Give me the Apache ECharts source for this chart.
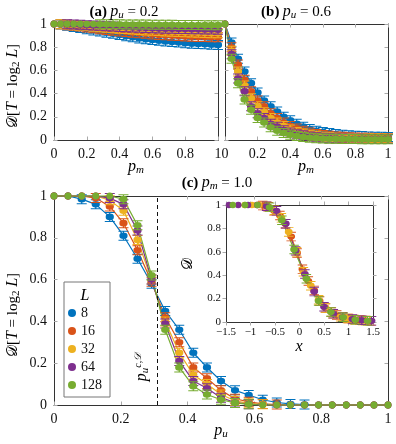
<!DOCTYPE html>
<html>
<head>
<meta charset="utf-8">
<title>D vs p</title>
<script src="https://cdn.jsdelivr.net/npm/echarts@6/dist/echarts.min.js"></script>
<style>html,body{margin:0;background:#fff}#main{width:396px;height:444px}</style>
</head>
<body>
<div id="main"></div>
<script>
// sizes L and matlab-ish colours
var sizes = ['8', '16', '32', '64', '128'];
var colors = ['#0072BD', '#D95319', '#EDB120', '#7E2F8E', '#77AC30'];

// (a), (b): p_m grid
var pmGrid = [0, 0.04, 0.08, 0.12, 0.16, 0.2, 0.24, 0.28, 0.32, 0.36, 0.4, 0.44, 0.48,
  0.52, 0.56, 0.6, 0.64, 0.68, 0.72, 0.76, 0.8, 0.84, 0.88, 0.92, 0.96, 1];
// (c): p_u grid
var puGrid = [0, 0.042, 0.083, 0.125, 0.167, 0.208, 0.25, 0.292, 0.333, 0.375, 0.417, 0.458,
  0.5, 0.542, 0.583, 0.625, 0.667, 0.708, 0.75, 0.792, 0.833, 0.875, 0.917, 0.958, 1];

// (a) p_u = 0.2
var a8   = [1, .995, .985, .975, .965, .955, .945, .935, .925, .915, .905, .895, .885, .875, .868, .862, .856, .85, .845, .84, .835, .83, .827, .825, .822, .82];
var a16  = [1, .997, .99, .985, .978, .97, .963, .955, .948, .942, .936, .93, .925, .92, .915, .91, .906, .902, .899, .896, .893, .891, .889, .887, .886, .885];
var a32  = [1, .998, .995, .99, .986, .982, .977, .972, .968, .964, .96, .956, .952, .948, .945, .942, .939, .936, .934, .932, .929, .927, .925, .923, .921, .92];
var a64  = [1, 1, .998, .996, .993, .99, .987, .984, .981, .978, .975, .972, .97, .968, .966, .964, .962, .96, .958, .957, .956, .955, .954, .953, .952, .95];
var a128 = [1, 1, 1, 1, 1, .999, .999, .998, .998, .997, .997, .996, .996, .995, .995, .994, .994, .993, .993, .992, .992, .991, .991, .99, .99, .99];

// (b) p_u = 0.6
var b8   = [1, .84, .70, .59, .49, .41, .34, .29, .245, .20, .17, .14, .115, .095, .08, .07, .06, .052, .046, .041, .037, .034, .031, .029, .027, .025];
var b16  = [1, .80, .65, .52, .42, .34, .29, .23, .19, .15, .12, .10, .08, .065, .052, .043, .036, .031, .027, .024, .022, .02, .019, .018, .017, .016];
var b32  = [1, .77, .59, .47, .36, .29, .24, .19, .15, .12, .09, .07, .055, .045, .036, .029, .024, .02, .018, .016, .015, .014, .013, .012, .012, .011];
var b64  = [1, .74, .53, .42, .29, .23, .19, .14, .115, .085, .065, .05, .04, .03, .024, .019, .016, .014, .012, .011, .01, .01, .009, .009, .009, .008];
var b128 = [1, .70, .49, .35, .26, .19, .15, .11, .08, .06, .045, .035, .025, .02, .016, .013, .011, .01, .009, .008, .008, .007, .007, .007, .007, .007];

// (c) p_m = 1.0
var c8   = [1, 1, .985, .96, .90, .81, .70, .58, .45, .36, .25, .18, .115, .07, .048, .025, .012, .005, .002, 0, 0, 0, 0, 0, 0];
var c16  = [1, 1, 1, .99, .95, .87, .74, .59, .42, .30, .18, .128, .07, .03, .015, .005, .002, 0, 0, 0, 0, 0, 0, 0, 0];
var c32  = [1, 1, 1, 1, .98, .93, .79, .60, .40, .25, .145, .10, .05, .02, .008, .003, 0, 0, 0, 0, 0, 0, 0, 0, 0];
var c64  = [1, 1, 1, 1, .99, .96, .835, .60, .39, .21, .115, .08, .035, .012, .004, .001, 0, 0, 0, 0, 0, 0, 0, 0, 0];
var c128 = [1, 1, 1, 1, 1, .985, .86, .62, .36, .18, .09, .05, .025, .01, .003, 0, 0, 0, 0, 0, 0, 0, 0, 0, 0];
var pcLine = 0.31;

// inset: collapsed data
var in16x  = [-0.87, -0.75, -0.64, -0.52, -0.40, -0.29, -0.17, -0.05, 0.06, 0.18, 0.30, 0.41, 0.53, 0.65, 0.76, 0.88, 1.00, 1.11, 1.23, 1.35, 1.46];
var in16y  = [1, .995, .985, .95, .91, .84, .73, .59, .45, .35, .27, .18, .12, .085, .06, .045, .03, .022, .017, .013, .01];
var in32x  = [-1.12, -0.97, -0.82, -0.67, -0.51, -0.37, -0.22, -0.06, 0.08, 0.23, 0.39, 0.53, 0.68, 0.84, 0.98, 1.13, 1.29, 1.43];
var in32y  = [1, 1, 1, .99, .955, .89, .77, .60, .43, .31, .19, .12, .07, .045, .03, .02, .013, .01];
var in64x  = [-1.44, -1.25, -1.05, -0.86, -0.67, -0.47, -0.28, -0.08, 0.11, 0.30, 0.50, 0.69, 0.88, 1.08, 1.27, 1.47];
var in64y  = [1, 1, 1, 1, .99, .95, .84, .61, .41, .26, .13, .07, .04, .025, .015, .01];
var in128x = [-1.36, -1.11, -0.86, -0.61, -0.36, -0.11, 0.14, 0.39, 0.64, 0.89, 1.14, 1.39];
var in128y = [1, 1, 1, .98, .87, .62, .37, .18, .085, .04, .02, .01];

var serif = 'Liberation Serif';
// circle with error-bar caps
var mark = 'path://M1,0H9V1H1Z M1,9H9V10H1Z M4.5,0H5.5V10H4.5Z M8.3,5A3.3,3.3 0 1 1 1.7,5A3.3,3.3 0 1 1 8.3,5Z';

function zip(xs, ys) {
  return ys.map(function (y, i) { return [xs[i], y]; });
}

// saturated points (0 or 1) have no visible error bar
function flat(v) { return v[1] >= 0.999 || v[1] <= 0.001; }

function ax(grid, min, max, step, pos, labels, fs) {
  return {
    type: 'value', gridIndex: grid, min: min, max: max, interval: step, position: pos,
    axisLine: {show: true, onZero: false, lineStyle: {color: '#333', width: 1}},
    axisTick: {show: true, inside: grid !== 3, length: 3.5, lineStyle: {color: '#aaa'}},
    axisLabel: {show: labels, fontFamily: serif, fontSize: fs, color: '#111', margin: grid === 3 ? 5 : 7,
      formatter: function (v) { return String(v).replace('-', '\u2212'); }},
    splitLine: {show: false}
  };
}

var xAxes = [
  ax(0, 0, 1, 0.2, 'bottom', true, 14), ax(0, 0, 1, 0.2, 'top', false, 14),
  ax(1, 0, 1, 0.2, 'bottom', true, 14), ax(1, 0, 1, 0.2, 'top', false, 14),
  ax(2, 0, 1, 0.2, 'bottom', true, 14), ax(2, 0, 1, 0.2, 'top', false, 14),
  ax(3, -1.5, 1.5, 0.5, 'bottom', true, 11), ax(3, -1.5, 1.5, 0.5, 'top', false, 11)
];
var yAxes = [
  ax(0, 0, 1, 0.2, 'left', true, 14), ax(0, 0, 1, 0.2, 'right', false, 14),
  ax(1, 0, 1, 0.2, 'left', false, 14), ax(1, 0, 1, 0.2, 'right', false, 14),
  ax(2, 0, 1, 0.2, 'left', true, 14), ax(2, 0, 1, 0.2, 'right', false, 14),
  ax(3, 0, 1, 0.2, 'left', true, 11), ax(3, 0, 1, 0.2, 'right', false, 11)
];

function line(name, k, data, axis, size) {
  var sz = size || 10;
  return {
    type: 'line', name: name, xAxisIndex: axis, yAxisIndex: axis, data: data,
    symbol: function (v) { return flat(v) ? 'circle' : mark; },
    symbolSize: function (v) { return flat(v) ? sz * 0.68 : sz; },
    clip: false, z: 3,
    itemStyle: {color: colors[k]},
    lineStyle: {color: colors[k], width: 1.2},
    emphasis: {disabled: true}, animation: false
  };
}

var aSets = [a8, a16, a32, a64, a128];
var bSets = [b8, b16, b32, b64, b128];
var cSets = [c8, c16, c32, c64, c128];
var inX = [null, in16x, in32x, in64x, in128x];
var inY = [null, in16y, in32y, in64y, in128y];

var series = [];
sizes.forEach(function (L, k) {
  series.push(line(L, k, zip(pmGrid, aSets[k]), 0));
  series.push(line(L, k, zip(pmGrid, bSets[k]), 2));
  var s = line(L, k, zip(puGrid, cSets[k]), 4);
  if (k === 0) {
    s.markLine = {silent: true, symbol: 'none', label: {show: false}, animation: false,
      lineStyle: {type: [4, 3], color: '#111', width: 1}, data: [{xAxis: pcLine}]};
  }
  series.push(s);
  if (inX[k]) series.push(line(L, k, zip(inX[k], inY[k]), 6, 9.5));
});

var rich = {
  n: {fontFamily: serif, fontSize: 15, lineHeight: 18, color: '#111'},
  b: {fontFamily: serif, fontSize: 15, fontWeight: 'bold', lineHeight: 18, color: '#111'},
  i: {fontFamily: serif, fontSize: 16, fontStyle: 'italic', lineHeight: 18, color: '#111'},
  s: {fontFamily: serif, fontSize: 11, fontStyle: 'italic', lineHeight: 10, verticalAlign: 'bottom', color: '#111'},
  s2: {fontFamily: serif, fontSize: 11, lineHeight: 10, verticalAlign: 'bottom', color: '#111'},
  t: {fontFamily: serif, fontSize: 10, fontStyle: 'italic', lineHeight: 10, verticalAlign: 'top', color: '#111'}
};

function txt(x, y, text, rot) {
  return {type: 'text', x: x, y: y, rotation: rot || 0, z: 10, silent: true,
    style: {text: text, rich: rich, align: 'center', verticalAlign: 'middle'}};
}

var yName = '{n|\uD835\uDC9F[}{i|T}{n| = log}{s2|2}{n| }{i|L}{n|]}';

var option = {
  animation: false,
  grid: [
    {left: 54, top: 24, width: 164, height: 116},
    {left: 225, top: 24, width: 163, height: 116},
    {left: 54, top: 196, width: 334, height: 209},
    {left: 226, top: 205, width: 147, height: 117, show: true, backgroundColor: '#fff', borderWidth: 0}
  ],
  xAxis: xAxes,
  yAxis: yAxes,
  legend: {
    left: 64, top: 282, orient: 'vertical', data: sizes, icon: 'circle',
    itemWidth: 8, itemHeight: 8, itemGap: 4, padding: [24, 8, 5, 4],
    borderColor: '#777', borderWidth: 1, backgroundColor: '#fff', selectedMode: false,
    textStyle: {fontFamily: serif, fontSize: 14, color: '#111'}
  },
  graphic: [
    txt(124, 12, '{b|(a)} {i|p}{s|u}{n| = 0.2}'),
    txt(296, 12, '{b|(b)} {i|p}{s|u}{n| = 0.6}'),
    txt(217, 183, '{b|(c)} {i|p}{s|m}{n| = 1.0}'),
    txt(136, 167, '{i|p}{s|m}'),
    txt(306, 167, '{i|p}{s|m}'),
    txt(221, 431, '{i|p}{s|u}'),
    txt(13, 86, yName, Math.PI / 2),
    txt(13, 315, yName, Math.PI / 2),
    txt(188, 264, '{n|\uD835\uDC9F}', Math.PI / 2),
    txt(299, 347, '{i|x}'),
    txt(85, 296, '{i|L}'),
    txt(142, 367, '{i|p}{s|u}{t|c,\uD835\uDC9F}', Math.PI / 2)
  ],
  series: series
};

var chart = echarts.init(document.getElementById('main'));
chart.setOption(option);
</script>
</body>
</html>
